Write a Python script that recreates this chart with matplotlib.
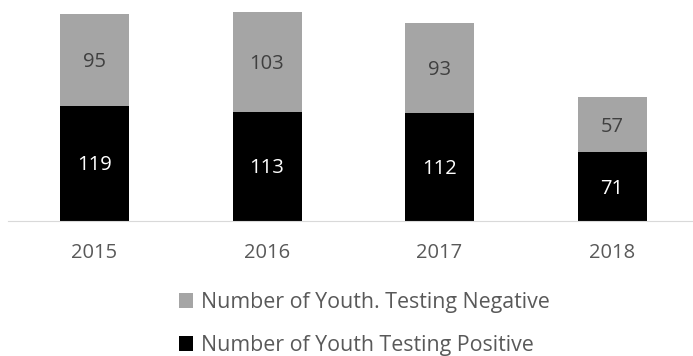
import matplotlib.pyplot as plt
import numpy as np

years = ['2015', '2016', '2017', '2018']
positive = [119, 113, 112, 71]
negative = [95, 103, 93, 57]

plt.rcParams['font.family'] = ['Open Sans', 'DejaVu Sans']

fig = plt.figure(figsize=(6.93, 3.56), dpi=100)
# axes run a little past the right edge, the last category gets cut
ax = fig.add_axes([8.25 / 693, 1 - 221 / 356, 690 / 693, 221 / 356])

x = np.arange(len(years))
w = 0.4
b1 = ax.bar(x, positive, w, color='#000000', label='Number of Youth Testing Positive')
b2 = ax.bar(x, negative, w, bottom=positive, color='#A5A5A5',
            label='Number of Youth. Testing Negative')

for r, v in zip(b1, positive):
    ax.text(r.get_x() + r.get_width() / 2, r.get_y() + v / 2 - 2, str(v),
            ha='center', va='center', color='white', fontsize=14.5)
for r, v in zip(b2, negative):
    ax.text(r.get_x() + r.get_width() / 2, r.get_y() + v / 2 - 2, str(v),
            ha='center', va='center', color='#404040', fontsize=14.5)

ax.set_xlim(-0.5, 3.5)
ax.set_ylim(0, 228.5)
ax.set_xticks(x)
ax.set_xticklabels(years, fontsize=14.5, color='#595959')
ax.tick_params(axis='x', length=0, pad=16)
ax.set_yticks([])
for s in ['top', 'left', 'right']:
    ax.spines[s].set_visible(False)
ax.spines['bottom'].set_color('#D9D9D9')

ax.legend([b2, b1], [b2.get_label(), b1.get_label()],
          loc='upper left', bbox_to_anchor=(179 / 693, 1 - 292 / 356),
          bbox_transform=fig.transFigure, frameon=False, ncol=1,
          fontsize=15.4, labelcolor='#595959', handlelength=0.65,
          handleheight=0.65, handletextpad=0.37, labelspacing=1.03,
          borderaxespad=0, borderpad=0)

fig.savefig('out.png', dpi=100)
